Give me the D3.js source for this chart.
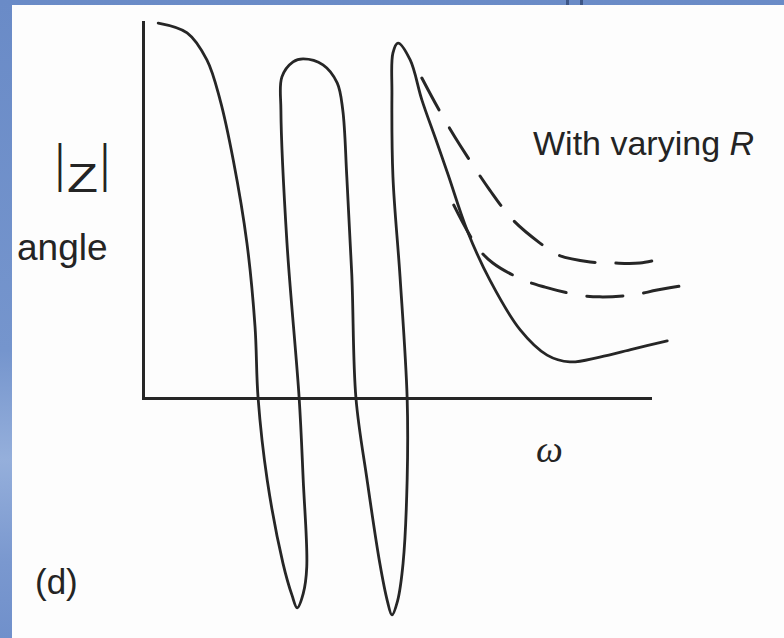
<!DOCTYPE html>
<html>
<head>
<meta charset="utf-8">
<script src="https://cdn.jsdelivr.net/npm/d3@7"></script>
<style>
  html, body { margin: 0; padding: 0; background: #6b8cc8; }
  svg { display: block; }
</style>
</head>
<body>
<script>
// Impedance sketch: |Z| / angle against ω, in arbitrary sketch units
// (x: 0–100 across the ω axis, y: 0–100 up the vertical axis, negative below it).

// Solid trace: one sweep that folds back on itself (ω, value)
const solidCurve = [
  [3.0, 99.7], [8.7, 97.1], [12.6, 89.9], [15.2, 79.3], [17.8, 63.3],
  [20.5, 41.2], [22.1, 18.9], [22.7, 0], [24.5, -21.8], [27.6, -43.9],
  [29.4, -52.5], [30.4, -55.8], [31.6, -52.0], [32.3, -44.9], [31.6, -21.8],
  [30.8, 0], [28.4, 41.2], [27.2, 76.6], [27.4, 85.4], [29.6, 89.4],
  [31.6, 90.2], [35.5, 88.6], [38.3, 83.8], [39.4, 76.6], [40.2, 58.8],
  [41.2, 32.2], [42.0, 0], [44.2, -21.8], [46.7, -43.9], [48.2, -54.0],
  [49.1, -57.7], [50.2, -54.0], [51.3, -43.9], [52.1, -21.8], [52.1, 0],
  [50.7, 32.2], [49.3, 58.8], [49.1, 81.1], [49.3, 91.8], [50.3, 94.4],
  [52.7, 89.9], [55.0, 79.3], [57.8, 68.6], [60.2, 59.3], [63.9, 44.7],
  [68.4, 31.4], [74.4, 18.1], [79.7, 11.4], [84.2, 9.6], [90.1, 10.9],
  [96.6, 13.0], [103.4, 15.2]
];

// Dashed traces: the tail of the sweep for other values of R
const upperDashed = [
  [55.0, 85.1], [58.6, 76.1], [62.5, 67.3], [68.4, 55.3], [73.0, 47.3],
  [78.3, 41.2], [81.9, 38.0], [88.2, 36.2], [92.7, 35.9], [98.0, 35.9],
  [103.9, 37.5]
];
const lowerDashed = [
  [61.3, 51.3], [65.9, 40.2], [69.0, 35.9], [75.0, 31.4], [79.3, 29.5],
  [85.8, 27.4], [90.1, 26.9], [96.6, 27.4], [101.4, 28.7], [107.3, 30.1]
];

// Text
const magBar = "|";
const magSymbol = "Z";
const yLabelBottom = "angle";
const xLabel = "ω";
const noteText = "With varying ";
const noteVar = "R";
const panelTag = "(d)";

const W = 784, H = 638;
const ink = "#262626";
const textInk = "#242424";

const svg = d3.select("body").append("svg")
  .attr("width", W).attr("height", H);

// slide backdrop
const defs = svg.append("defs");
const grad = defs.append("linearGradient").attr("id", "slide")
  .attr("x1", 0).attr("y1", 0).attr("x2", 0).attr("y2", 1);
grad.append("stop").attr("offset", "0%").attr("stop-color", "#6a8bc7");
grad.append("stop").attr("offset", "55%").attr("stop-color", "#7595cd");
grad.append("stop").attr("offset", "72%").attr("stop-color", "#95afdb");
grad.append("stop").attr("offset", "88%").attr("stop-color", "#7a98cf");
grad.append("stop").attr("offset", "100%").attr("stop-color", "#7090cb");
svg.append("rect").attr("width", W).attr("height", H).attr("fill", "url(#slide)");
svg.append("rect").attr("x", 566).attr("y", 0).attr("width", 3).attr("height", 5).attr("fill", "#3d5687");
svg.append("rect").attr("x", 580).attr("y", 0).attr("width", 3).attr("height", 5).attr("fill", "#3d5687");

// white figure panel
svg.append("rect").attr("x", 12).attr("y", 5).attr("width", W - 12).attr("height", H - 5)
  .attr("fill", "#fdfdfd");

const x = d3.scaleLinear().domain([0, 100]).range([143, 650]);
const y = d3.scaleLinear().domain([0, 100]).range([398, 22]);

// axes: bare lines, no ticks
const xAxis = svg.append("g").attr("transform", `translate(0,${y(0)})`)
  .call(d3.axisBottom(x).ticks(0).tickSizeOuter(0));
const yAxis = svg.append("g").attr("transform", `translate(${x(0)},0)`)
  .call(d3.axisLeft(y).ticks(0).tickSizeOuter(0));
[xAxis, yAxis].forEach(g => g.select(".domain")
  .attr("stroke", ink).attr("stroke-width", 3).attr("stroke-linecap", "square"));

const line = d3.line()
  .x(d => x(d[0])).y(d => y(d[1]))
  .curve(d3.curveCatmullRom.alpha(0.5));

svg.append("path").datum(solidCurve)
  .attr("d", line).attr("fill", "none")
  .attr("stroke", ink).attr("stroke-width", 2.8)
  .attr("stroke-linejoin", "round").attr("stroke-linecap", "round");

[upperDashed, lowerDashed].forEach(series => {
  svg.append("path").datum(series)
    .attr("d", line).attr("fill", "none")
    .attr("stroke", ink).attr("stroke-width", 3)
    .attr("stroke-dasharray", "36,21").attr("stroke-linecap", "round");
});

// labels
const sans = "'Liberation Sans', Arial, sans-serif";
const label = (tx, ty, size, str) => svg.append("text")
  .attr("x", tx).attr("y", ty)
  .attr("font-family", sans).attr("font-size", size).attr("fill", textInk)
  .text(str);

// |Z| : thin, tall bars around the symbol
[60, 105].forEach(cx => {
  svg.append("text")
    .attr("transform", `translate(${cx},181) scale(1,1.5)`)
    .attr("text-anchor", "middle")
    .attr("font-family", sans).attr("font-size", 34).attr("fill", textInk)
    .text(magBar);
});
label(67, 192, 41, magSymbol).attr("textLength", 31).attr("lengthAdjust", "spacingAndGlyphs");

label(17, 260, 37, yLabelBottom);
label(35, 594, 35, panelTag);

svg.append("text").attr("x", 536).attr("y", 462)
  .attr("font-family", "'Liberation Serif', 'Times New Roman', serif")
  .attr("font-style", "italic").attr("font-size", 38).attr("fill", textInk)
  .text(xLabel);

const note = label(533, 155, 34, noteText);
note.append("tspan").attr("font-style", "italic").text(noteVar);
</script>
</body>
</html>
